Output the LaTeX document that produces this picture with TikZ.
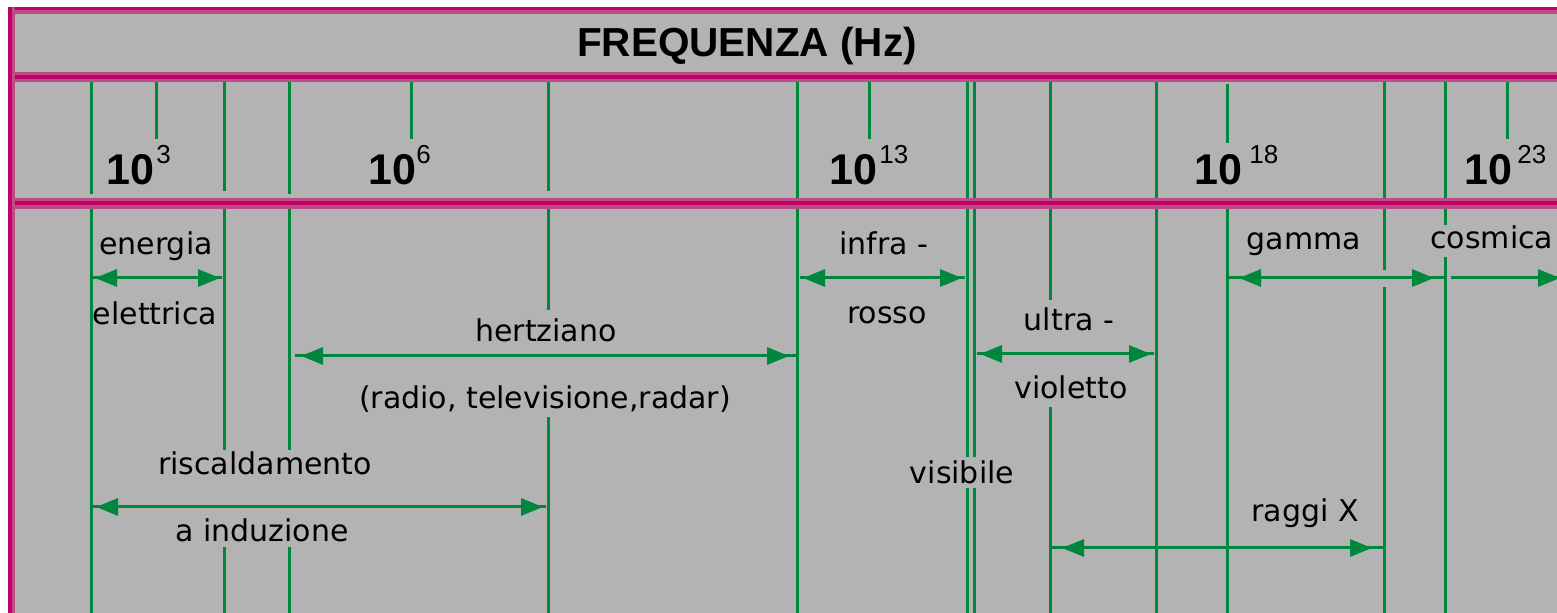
\documentclass[tikz,border=0pt]{standalone}
\usepackage{fontspec}
\setmainfont{DejaVu Sans}
\newfontfamily\headfont{Liberation Sans}
\usetikzlibrary{arrows.meta,decorations.markings}
\definecolor{panel}{RGB}{179,179,179}
\definecolor{rulecore}{RGB}{194,0,104}
\definecolor{ruleedge}{RGB}{188,76,134}
\definecolor{scalegreen}{RGB}{0,135,62}

\begin{document}
\begin{tikzpicture}[x=0.5pt,y=-0.5pt,
  >={Triangle[length=11pt,width=8.5pt]},
  tick/.style={draw=scalegreen,line width=1.5pt},
  lab/.style={inner sep=0pt,anchor=base,font=\fontsize{15}{18}\selectfont},
  dec/.style={inner sep=0pt,anchor=base west,font=\headfont\bfseries\fontsize{21.5}{24}\selectfont},
  expo/.style={inner sep=0pt,anchor=base west,font=\headfont\fontsize{13}{15}\selectfont},
  span/.style 2 args={draw=scalegreen,color=scalegreen,line width=1.5pt,
    postaction={decorate},
    decoration={markings,
      mark=at position #1 with {\arrowreversed{>}},
      mark=at position -#2 with {\arrow{>}}}},
  oneway/.style={draw=scalegreen,color=scalegreen,line width=1.5pt,
    postaction={decorate},
    decoration={markings,mark=at position -#1 with {\arrow{>}}}}
]
\useasboundingbox (0,0) rectangle (1557,613);
\clip (0,0) rectangle (1557,613);

% background panel
\fill[panel] (8,7) rectangle (1557,613);

% title
\node[inner sep=0pt,anchor=base,font=\headfont\bfseries\fontsize{20.25}{24}\selectfont]
  (title) at (747,57) {FREQUENZA (Hz)};

% scale lines: short ticks for decades
\foreach \x in {156,411,869,1507} \draw[tick] (\x,80) -- (\x,139);
\draw[tick] (1227,84) -- (1227,143) (1227,208) -- (1227,613);

% band boundaries
\draw[tick] (91,80) -- (91,194) (91,208) -- (91,613);
\draw[tick] (224,80) -- (224,191) (224,208) -- (224,450) (224,547) -- (224,613);
\draw[tick] (289,80) -- (289,194) (289,208) -- (289,450) (289,547) -- (289,613);
\draw[tick] (548,80) -- (548,191) (548,208) -- (548,310) (548,417) -- (548,613);
\draw[tick] (797,80) -- (797,613);
\draw[tick] (967,80) -- (967,457) (967,488) -- (967,613);
\draw[tick] (974,80) -- (974,457) (974,488) -- (974,613);
\draw[tick] (1050,80) -- (1050,300) (1050,407) -- (1050,613);
\draw[tick] (1156,80) -- (1156,613);
\draw[tick] (1384,80) -- (1384,270) (1384,287) -- (1384,613);
\draw[tick] (1445,80) -- (1445,225) (1445,257) -- (1445,613);

% magenta rules
\fill[ruleedge] (8,7) rectangle (1557,14);
\fill[rulecore] (8,7) rectangle (1557,10);
\fill[ruleedge] (8,72) rectangle (1557,82);
\fill[rulecore] (8,75) rectangle (1557,79);
\fill[ruleedge] (8,198) rectangle (1557,209);
\fill[rulecore] (8,201) rectangle (1557,205);
\fill[ruleedge] (8,7) rectangle (15,613);
\fill[rulecore] (8,7) rectangle (12,613);

% decade labels
\node[dec] (d3) at (106,185) {10};   \node[expo] (e3) at (156,164) {3};
\node[dec] (d6) at (368,185) {10};   \node[expo] (e6) at (416,164) {6};
\node[dec] (d13) at (829,185) {10};  \node[expo] (e13) at (879,164) {13};
\node[dec] (d18) at (1194,185) {10}; \node[expo] (e18) at (1249,164) {18};
\node[dec] (d23) at (1464,185) {10}; \node[expo] (e23) at (1517,164) {23};

% band names
\node[lab] (energia) at (156,255) {energia};
\node[lab] (elettrica) at (155,325) {elettrica};
\node[lab] (hertz) at (546,342) {hertziano};
\node[lab] (hertzuse) at (545,409) {(radio, televisione,radar)};
\node[lab] (risc) at (265,475) {riscaldamento};
\node[lab] (induz) at (262,542) {a induzione};
\node[lab] (infra) at (884,255) {infra -};
\node[lab] (rosso) at (887,324) {rosso};
\node[lab] (ultra) at (1069,331) {ultra -};
\node[lab] (viol) at (1071,399) {violetto};
\node[lab] (vis) at (962,484) {visibile};
\node[lab] (gamma) at (1304,250) {gamma};
\node[lab] (raggix) at (1305,522) {raggi X};
\node[lab,anchor=base west] (cosm) at (1430,249) {cosmica};

% band extents
\coordinate (enL) at (93,278);   \coordinate (enR) at (222,278);
\coordinate (heL) at (295,356);  \coordinate (heR) at (797,356);
\coordinate (riL) at (93,507);   \coordinate (riR) at (546,507);
\coordinate (irL) at (800,278);  \coordinate (irR) at (965,278);
\coordinate (uvL) at (977,354);  \coordinate (uvR) at (1154,354);
\coordinate (gaL) at (1228,278); \coordinate (gaR) at (1445,278);
\coordinate (coL) at (1451,278); \coordinate (coR) at (1562,278);
\coordinate (xL) at (1050,548);  \coordinate (xR) at (1383,548);

\path[span={1pt}{1pt}] (enL) -- (enR);
\path[span={3pt}{4pt}] (heL) -- (heR);
\path[span={1.5pt}{1.5pt}] (riL) -- (riR);
\path[span={1.5pt}{1.5pt}] (irL) -- (irR);
\path[span={1.5pt}{1.5pt}] (uvL) -- (uvR);
\path[span={5.5pt}{5.5pt}] (gaL) -- (gaR);
\path[oneway={1pt}] (coL) -- (coR);
\path[span={6pt}{5.5pt}] (xL) -- (xR);
\end{tikzpicture}
\end{document}
